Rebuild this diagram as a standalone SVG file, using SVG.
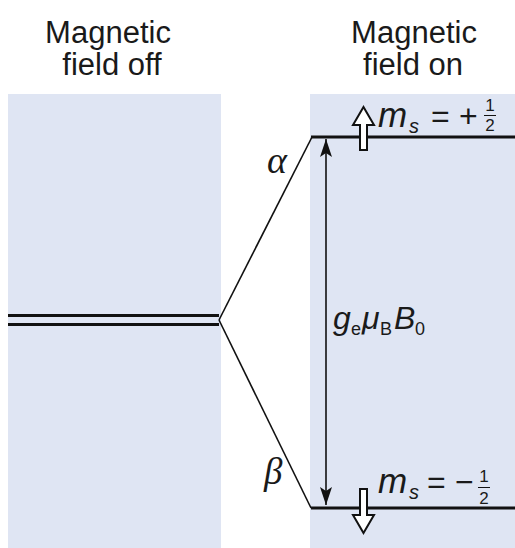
<svg xmlns="http://www.w3.org/2000/svg" width="515" height="548" viewBox="0 0 515 548">
<defs>
<style>
.panel{fill:#dfe5f3;stroke:none}
.head{font-family:"Liberation Sans",Arial,sans-serif;font-size:31px;fill:#1a1a1a;text-anchor:middle}
.lvl{stroke:#111;stroke-width:3;fill:none}
.thin{stroke:#111;stroke-width:1.6;fill:none}
.sym{font-family:"Liberation Sans",Arial,sans-serif;fill:#1a1a1a}
.it{font-style:italic}
.greek{font-family:"Liberation Serif","Times New Roman",serif;font-style:italic;fill:#1a1a1a}
.hollow{fill:#fff;stroke:#111;stroke-width:2;stroke-linejoin:miter}
</style>
<marker id="ahb" viewBox="0 0 18 12" refX="18" refY="6" markerWidth="18" markerHeight="12" markerUnits="userSpaceOnUse" orient="auto">
<path d="M0,0 L18,6 L0,12 L4,6 Z" fill="#111"/>
</marker>
</defs>
<rect width="515" height="548" fill="#fff"/>
<g id="headings">
<text class="head" x="108" y="43">Magnetic</text>
<text class="head" x="112" y="75">field off</text>
<text class="head" x="414" y="43">Magnetic</text>
<text class="head" x="413" y="75">field on</text>
</g>
<g id="panel-off"><rect class="panel" x="8" y="94" width="213" height="454"/></g>
<g id="panel-on"><rect class="panel" x="310" y="94" width="205" height="454"/></g>
<g id="connectors">
<line class="lvl" x1="8" y1="315.5" x2="219" y2="315.5"/>
<line class="lvl" x1="8" y1="324.5" x2="219" y2="324.5"/>
<line class="thin" x1="219" y1="320" x2="312" y2="137"/>
<line class="thin" x1="219" y1="320" x2="311" y2="508"/>
<line class="thin" x1="326" y1="320" x2="326" y2="139" marker-end="url(#ahb)"/>
<line class="thin" x1="326" y1="320" x2="326" y2="505" marker-end="url(#ahb)"/>
</g>
<g id="level-alpha">
<line class="lvl" x1="311" y1="137" x2="515" y2="137"/>
<polygon class="hollow" points="363.5,107 374,125 367,125 367,150 360,150 360,125 353,125"/>
<text class="greek" x="267" y="173" font-size="38">α</text>
<g class="sym">
<text class="it" x="378" y="127" font-size="35">m</text>
<text class="it" x="409" y="133" font-size="20">s</text>
<text x="431" y="127" font-size="32">=</text>
<text x="459" y="127" font-size="32">+</text>
<text x="490" y="111" font-size="17" text-anchor="middle">1</text>
<line x1="484" y1="115.5" x2="496" y2="115.5" stroke="#111" stroke-width="1"/>
<text x="490" y="131" font-size="17" text-anchor="middle">2</text>
</g>
</g>
<g id="level-beta">
<line class="lvl" x1="311" y1="508" x2="515" y2="508"/>
<polygon class="hollow" points="363.5,533 374,515 367,515 367,489 360,489 360,515 353,515"/>
<text class="greek" x="264" y="484" font-size="37">β</text>
<g class="sym">
<text class="it" x="378" y="493" font-size="35">m</text>
<text class="it" x="409" y="499" font-size="20">s</text>
<text x="427" y="493" font-size="32">=</text>
<text x="455" y="493" font-size="32">−</text>
<text x="484" y="482" font-size="17" text-anchor="middle">1</text>
<line x1="478" y1="487.5" x2="490" y2="487.5" stroke="#111" stroke-width="1"/>
<text x="484" y="504" font-size="17" text-anchor="middle">2</text>
</g>
</g>
<g id="energy-gap" class="sym">
<text class="it" x="333" y="329" font-size="32">g</text>
<text x="351" y="335" font-size="18">e</text>
<text class="it" x="362" y="329" font-size="32">μ</text>
<text x="380" y="335" font-size="18">B</text>
<text class="it" x="394" y="329" font-size="32">B</text>
<text x="415" y="335" font-size="18">0</text>
</g>
</svg>
